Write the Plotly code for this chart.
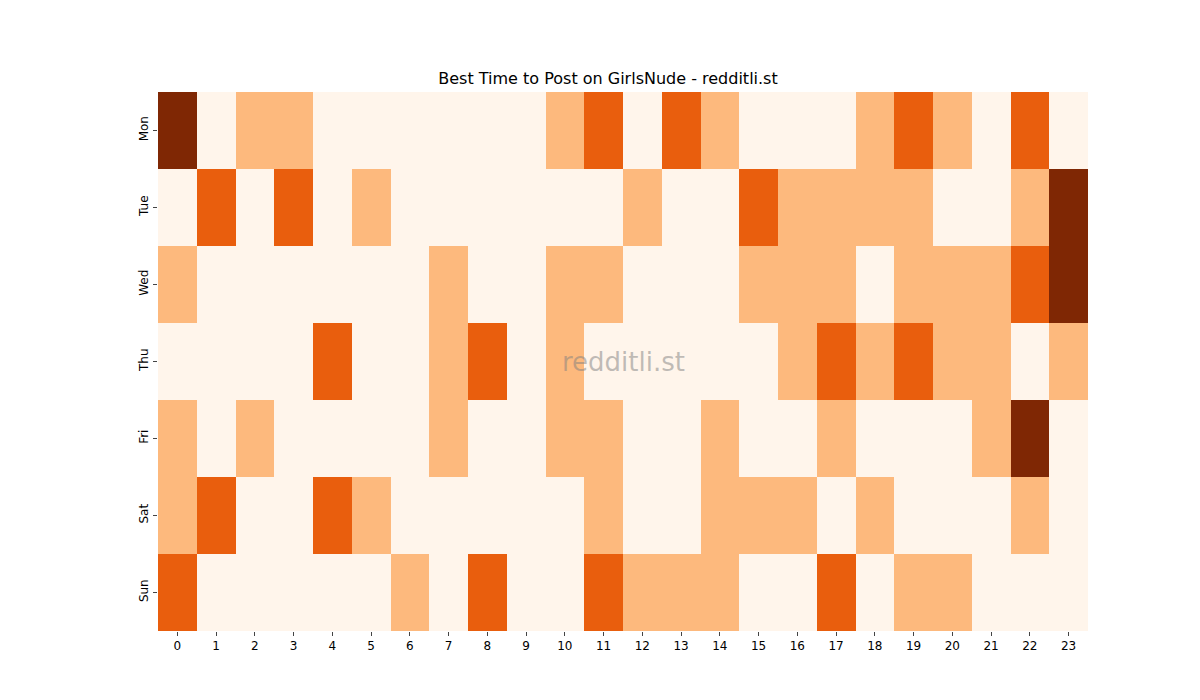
import plotly.graph_objects as go

hours = [str(h) for h in range(24)]
days = ["Mon", "Tue", "Wed", "Thu", "Fri", "Sat", "Sun"]
mon = [3,0,1,1,0,0,0,0,0,0,1,2,0,2,1,0,0,0,1,2,1,0,2,0]
tue = [0,2,0,2,0,1,0,0,0,0,0,0,1,0,0,2,1,1,1,1,0,0,1,3]
wed = [1,0,0,0,0,0,0,1,0,0,1,1,0,0,0,1,1,1,0,1,1,1,2,3]
thu = [0,0,0,0,2,0,0,1,2,0,1,0,0,0,0,0,1,2,1,2,1,1,0,1]
fri = [1,0,1,0,0,0,0,1,0,0,1,1,0,0,1,0,0,1,0,0,0,1,3,0]
sat = [1,2,0,0,2,1,0,0,0,0,0,1,0,0,1,1,1,0,1,0,0,0,1,0]
sun = [2,0,0,0,0,0,1,0,2,0,0,2,1,1,1,0,0,2,0,1,1,0,0,0]
z = [mon, tue, wed, thu, fri, sat, sun]

colorscale = [[0, "#fff5eb"], [0.1666, "#fff5eb"], [0.1667, "#fdb97d"], [0.5, "#fdb97d"],
              [0.5001, "#e95e0d"], [0.8333, "#e95e0d"], [0.8334, "#7f2704"], [1, "#7f2704"]]

fig = go.Figure(go.Heatmap(z=z, x=hours, y=days, colorscale=colorscale, zmin=-0.5, zmax=3.5,
                           showscale=False, xgap=0, ygap=0))
fig.update_layout(
    width=1200, height=700, paper_bgcolor="white", plot_bgcolor="white",
    margin=dict(l=150, r=120, t=84, b=77),
    title=dict(text="Best Time to Post on GirlsNude - redditli.st", x=0.5, xanchor="center",
               y=1 - 70/700, yanchor="middle", font=dict(family="DejaVu Sans", size=16, color="black")),
    font=dict(family="DejaVu Sans", size=12, color="black"),
    xaxis=dict(type="category", ticks="outside", ticklen=4, showgrid=False),
    yaxis=dict(type="category", autorange="reversed", ticks="outside", ticklen=4, showgrid=False,
               tickangle=-90),
    annotations=[dict(text="redditli.st", x=0.5, y=0.5, xref="paper", yref="paper", showarrow=False,
                      font=dict(size=26, color="rgba(128,128,128,0.5)", family="DejaVu Sans"))],
)
fig.write_html("out.html")
